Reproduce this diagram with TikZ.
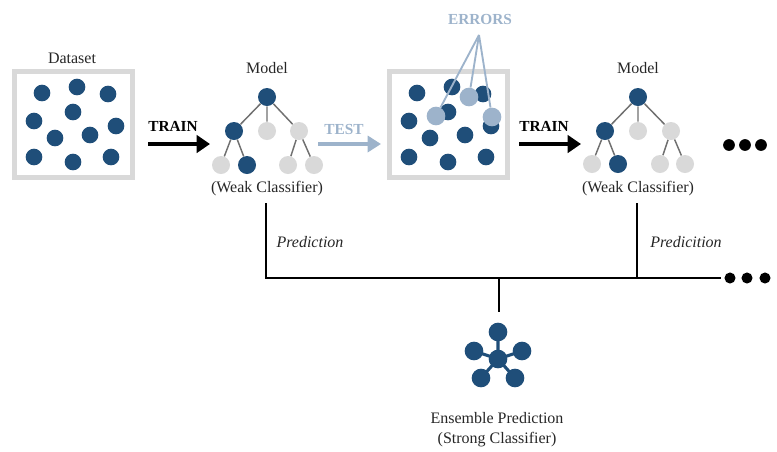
\documentclass[tikz,border=0pt]{standalone}
\usepackage{fontspec}
\setmainfont{Liberation Serif}
\usetikzlibrary{arrows.meta}

\definecolor{navy}{HTML}{1F4E79}
\definecolor{pale}{HTML}{D9D9D9}
\definecolor{errblue}{HTML}{9DB3CB}
\definecolor{edgegray}{HTML}{707070}
\definecolor{ink}{HTML}{262626}

\tikzset{
  txt/.style={text=ink, font=\fontsize{12pt}{15pt}\selectfont, inner sep=0pt},
  boldlbl/.style={font=\bfseries\fontsize{11.5pt}{13pt}\selectfont, inner sep=0pt},
  predlbl/.style={text=ink, font=\itshape\fontsize{12pt}{14pt}\selectfont, inner sep=0pt},
  databox/.style={draw=pale, line width=3.75pt, minimum width=88.5pt, minimum height=80pt, inner sep=0pt},
  dot/.style={circle, fill=navy, inner sep=0pt, minimum size=12.5pt},
  errdot/.style={circle, fill=errblue, inner sep=0pt, minimum size=14pt},
  tblue/.style={circle, fill=navy, inner sep=0pt, minimum size=13.5pt},
  tgray/.style={circle, fill=pale, inner sep=0pt, minimum size=13.5pt},
  tedge/.style={draw=edgegray, line width=1.1pt},
  trainarrow/.style={draw=black, line width=3pt, -{Triangle[length=10pt,width=13pt]}},
  testarrow/.style={draw=errblue, line width=3pt, -{Triangle[length=10pt,width=12pt]}},
  errline/.style={draw=errblue, line width=1.4pt},
  bus/.style={draw=black, line width=2.2pt},
  bigdot/.style={circle, fill=black, inner sep=0pt, minimum size=8.8pt},
  smalldot/.style={circle, fill=black, inner sep=0pt, minimum size=8.3pt},
  hub/.style={circle, fill=navy, inner sep=0pt, minimum size=14pt},
  spoke/.style={draw=navy, line width=2.3pt},
}

\begin{document}
\begin{tikzpicture}[x=0.75pt, y=-0.75pt]
\useasboundingbox (0,0) rectangle (777,451);

% ---------- dataset ----------
\node[txt] (dslabel) at (72,58) {Dataset};
\node[databox] (data) at (73.5,124.5) {};
\foreach \p [count=\i] in {(42,93),(77,87),(108,94),(34,121),(73,112),(116,126),(55,138),(90,135),(34,157),(73,162),(111,157)}
  \node[dot] (d\i) at \p {};

% ---------- first TRAIN arrow ----------
\coordinate (tr1s) at (148,144);
\coordinate (tr1e) at (210,144);
\draw[trainarrow] (tr1s) -- (tr1e);
\node[boldlbl] (tr1lbl) at (173,126) {TRAIN};

% ---------- first weak model ----------
\node[txt] (mod1) at (267,68) {Model};
\node[tblue] (m1r)  at (267,97) {};
\node[tblue] (m1a)  at (234,131) {};
\node[tgray] (m1b)  at (267,131) {};
\node[tgray] (m1c)  at (299,131) {};
\node[tgray] (m1aa) at (221,165) {};
\node[tblue] (m1ab) at (247,165) {};
\node[tgray] (m1ca) at (288,165) {};
\node[tgray] (m1cb) at (314,165) {};
\draw[tedge] (m1r) -- (m1a) (m1r) -- (m1b) (m1r) -- (m1c)
             (m1a) -- (m1aa) (m1a) -- (m1ab)
             (m1c) -- (m1ca) (m1c) -- (m1cb);
\node[txt] (wc1) at (267,189) {(Weak Classifier)};

% ---------- TEST arrow ----------
\coordinate (tss) at (318,144);
\coordinate (tse) at (381,144);
\draw[testarrow] (tss) -- (tse);
\node[boldlbl, text=errblue] (tslbl) at (344,129) {TEST};

% ---------- test set with errors ----------
\node[databox] (test) at (448.5,124.5) {};
\begin{scope}[shift={(375,0)}]
\foreach \p [count=\i] in {(42,93),(77,87),(108,94),(34,121),(73,112),(116,126),(55,138),(90,135),(34,157),(73,162),(111,157)}
  \node[dot] (s\i) at \p {};
\end{scope}
\node[errdot] (err1) at (436,116) {};
\node[errdot] (err2) at (469,97) {};
\node[errdot] (err3) at (492,117) {};
\node[boldlbl, text=errblue] (errlbl) at (480,19) {ERRORS};
\coordinate (apex) at (479,35);
\draw[errline] (apex) -- (err1);
\draw[errline] (apex) -- (err2);
\draw[errline] (apex) -- (err3);

% ---------- second TRAIN arrow ----------
\coordinate (tr2s) at (519,144);
\coordinate (tr2e) at (581,144);
\draw[trainarrow] (tr2s) -- (tr2e);
\node[boldlbl] (tr2lbl) at (544,126) {TRAIN};

% ---------- second weak model ----------
\node[txt] (mod2) at (638,68) {Model};
\node[tblue] (m2r)  at (638,97) {};
\node[tblue] (m2a)  at (605,131) {};
\node[tgray] (m2b)  at (638,131) {};
\node[tgray] (m2c)  at (671,131) {};
\node[tgray] (m2aa) at (592,164) {};
\node[tblue] (m2ab) at (618,164) {};
\node[tgray] (m2ca) at (660,164) {};
\node[tgray] (m2cb) at (685,164) {};
\draw[tedge] (m2r) -- (m2a) (m2r) -- (m2b) (m2r) -- (m2c)
             (m2a) -- (m2aa) (m2a) -- (m2ab)
             (m2c) -- (m2ca) (m2c) -- (m2cb);
\node[txt] (wc2) at (638,189) {(Weak Classifier)};

% continuation dots
\node[bigdot] (c1) at (729,145) {};
\node[bigdot] (c2) at (745,145) {};
\node[bigdot] (c3) at (761,145) {};

% ---------- prediction bus ----------
\coordinate (p1) at (266,203);
\coordinate (p2) at (637,203);
\coordinate (j1) at (266,278);
\coordinate (j2) at (637,278);
\coordinate (j3) at (499,278);
\coordinate (busend) at (721,278);
\coordinate (drop) at (499,312);
\draw[bus] (p1) -- (j1) -- (busend);
\draw[bus] (p2) -- (j2);
\draw[bus] (j3) -- (drop);
\node[predlbl] (pred1) at (310,242) {Prediction};
\node[predlbl] (pred2) at (686,242) {Predicition};
\node[smalldot] (b1) at (730,278) {};
\node[smalldot] (b2) at (747,278) {};
\node[smalldot] (b3) at (765,278) {};

% ---------- strong classifier icon ----------
\node[hub] (hc) at (498,359) {};
\node[hub] (h1) at (498,332) {};
\node[hub] (h2) at (474,351) {};
\node[hub] (h3) at (522,351) {};
\node[hub] (h4) at (481,378) {};
\node[hub] (h5) at (515,378) {};
\draw[spoke] (hc.center) -- (h1.center) (hc.center) -- (h2.center) (hc.center) -- (h3.center)
             (hc.center) -- (h4.center) (hc.center) -- (h5.center);
\node[txt, align=center] (ens) at (497,430) {Ensemble Prediction\\(Strong Classifier)};
\end{tikzpicture}
\end{document}
